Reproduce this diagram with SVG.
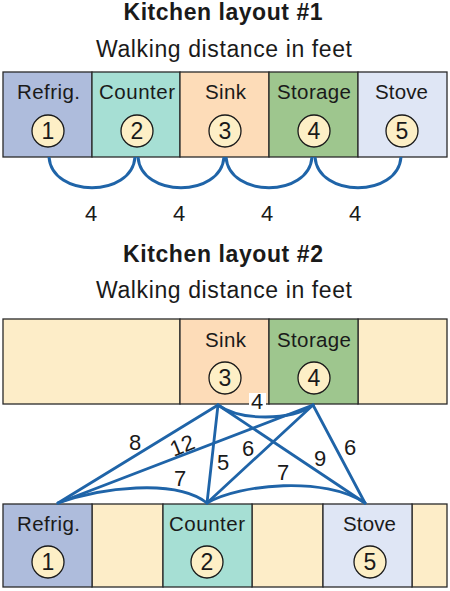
<svg xmlns="http://www.w3.org/2000/svg" width="450" height="591" viewBox="0 0 450 591">
<style>
text{font-family:"Liberation Sans",Arial,sans-serif;fill:#1a1a1a}
.t{font-size:23px;font-weight:bold;text-anchor:middle}
.s{font-size:23px;text-anchor:middle}
.l{font-size:20.5px;text-anchor:middle}
.n{font-size:23px;text-anchor:middle}
.d{font-size:22px;text-anchor:middle}
.box{stroke:#2a2a2a;stroke-width:1.3}
.c{fill:#fdefc6;stroke:#1a1a1a;stroke-width:1.3}
.e{fill:none;stroke:#1f64a8;stroke-width:2.8;stroke-linecap:round}
.a{fill:none;stroke:#1f64a8;stroke-width:3}
</style>
<rect width="450" height="591" fill="#fff"/>
<text class="t" x="223" y="20" textLength="199">Kitchen layout #1</text>
<text class="s" x="224" y="57" textLength="256">Walking distance in feet</text>

<g id="layout1">
<g id="l1-refrig"><rect class="box" x="3" y="72" width="89" height="85" fill="#aebcdc"/><text class="l" x="48.5" y="99" textLength="63">Refrig.</text><circle class="c" cx="48" cy="131" r="16"/><text class="n" x="48" y="139">1</text></g>
<g id="l1-counter"><rect class="box" x="92" y="72" width="88" height="85" fill="#a6dfd4"/><text class="l" x="137" y="99" textLength="76">Counter</text><circle class="c" cx="137" cy="131" r="16"/><text class="n" x="137" y="139">2</text></g>
<g id="l1-sink"><rect class="box" x="180" y="72" width="89" height="85" fill="#fddcb8"/><text class="l" x="225.5" y="99" textLength="41">Sink</text><circle class="c" cx="225" cy="131" r="16"/><text class="n" x="225" y="139">3</text></g>
<g id="l1-storage"><rect class="box" x="269" y="72" width="89" height="85" fill="#9ec68e"/><text class="l" x="314" y="99" textLength="74">Storage</text><circle class="c" cx="314" cy="131" r="16"/><text class="n" x="314" y="139">4</text></g>
<g id="l1-stove"><rect class="box" x="358" y="72" width="89" height="85" fill="#dfe6f5"/><text class="l" x="401.5" y="99" textLength="53">Stove</text><circle class="c" cx="402" cy="131" r="16"/><text class="n" x="402" y="139">5</text></g>
</g>
<g id="l1-connectors">
<path class="a" d="M49,157 C52,198 132,198 135,157"/>
<path class="a" d="M138,157 C141,198 221,198 224,157"/>
<path class="a" d="M226,157 C229,198 309,198 312,157"/>
<path class="a" d="M315,157 C318,198 398,198 401,157"/>
<text class="d" x="91" y="221">4</text>
<text class="d" x="179" y="221">4</text>
<text class="d" x="267" y="221">4</text>
<text class="d" x="355" y="221">4</text>
</g>

<text class="t" x="223" y="262" textLength="200">Kitchen layout #2</text>
<text class="s" x="224" y="298" textLength="256">Walking distance in feet</text>

<g id="layout2-top">
<rect class="box" x="3" y="319" width="177" height="85" fill="#fdedc8"/>
<rect class="box" x="358" y="319" width="89" height="85" fill="#fdedc8"/>
<g id="l2-sink"><rect class="box" x="180" y="319" width="89" height="85" fill="#fddcb8"/><text class="l" x="225.5" y="347" textLength="41">Sink</text><circle class="c" cx="225" cy="378" r="16"/><text class="n" x="225" y="386">3</text></g>
<g id="l2-storage"><rect class="box" x="269" y="319" width="89" height="85" fill="#9ec68e"/><text class="l" x="314" y="347" textLength="74">Storage</text><circle class="c" cx="314" cy="378" r="16"/><text class="n" x="314" y="386">4</text></g>
</g>
<g id="layout2-bottom">
<rect class="box" x="92" y="504" width="71" height="83" fill="#fdedc8"/>
<rect class="box" x="252" y="504" width="71" height="83" fill="#fdedc8"/>
<rect class="box" x="412" y="504" width="35" height="83" fill="#fdedc8"/>
<g id="l2-refrig"><rect class="box" x="3" y="504" width="89" height="83" fill="#aebcdc"/><text class="l" x="48.5" y="531" textLength="63">Refrig.</text><circle class="c" cx="48" cy="562" r="16"/><text class="n" x="48" y="570">1</text></g>
<g id="l2-counter"><rect class="box" x="163" y="504" width="89" height="83" fill="#a6dfd4"/><text class="l" x="207" y="531" textLength="76">Counter</text><circle class="c" cx="207" cy="562" r="16"/><text class="n" x="207" y="570">2</text></g>
<g id="l2-stove"><rect class="box" x="323" y="504" width="89" height="83" fill="#dfe6f5"/><text class="l" x="369.5" y="531" textLength="53">Stove</text><circle class="c" cx="370" cy="562" r="16"/><text class="n" x="370" y="570">5</text></g>
</g>
<g id="l2-connectors">
<line class="e" x1="218" y1="405" x2="58" y2="503"/>
<line class="e" x1="313" y1="405" x2="58" y2="503"/>
<line class="e" x1="218" y1="405" x2="207" y2="503"/>
<line class="e" x1="313" y1="405" x2="207" y2="503"/>
<line class="e" x1="218" y1="405" x2="365" y2="503"/>
<line class="e" x1="313" y1="405" x2="365" y2="503"/>
<path class="e" d="M218,405 C240,421 291,421 313,405"/>
<path class="e" d="M58,503 C100,488 175,478 207,503"/>
<path class="e" d="M207,503 C240,484 325,476 365,503"/>
<rect x="249" y="393" width="17" height="16" fill="#fff"/>
<text class="d" x="257" y="409">4</text>
<text class="d" x="135" y="450">8</text>
<text class="d" x="182" y="453" transform="rotate(-22 182 445)">12</text>
<text class="d" x="223" y="470">5</text>
<text class="d" x="248" y="456">6</text>
<text class="d" x="180" y="486">7</text>
<text class="d" x="283" y="480">7</text>
<text class="d" x="320" y="466">9</text>
<text class="d" x="350" y="455">6</text>
</g>
</svg>
